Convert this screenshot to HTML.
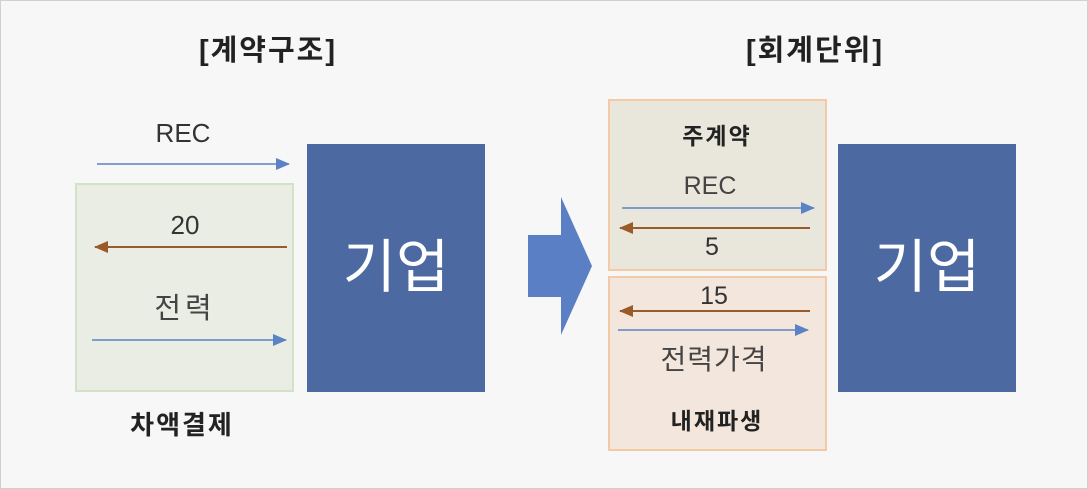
<!DOCTYPE html>
<html><head><meta charset="utf-8"><style>
html,body{margin:0;padding:0;background:#fff}
svg{display:block}
text{font-family:"Liberation Sans","Noto Sans CJK KR",sans-serif}
</style></head><body>
<svg width="1088" height="489" viewBox="0 0 1088 489" xmlns="http://www.w3.org/2000/svg">
<defs>
<marker id="ab" markerWidth="14" markerHeight="12" refX="13" refY="6" orient="auto" markerUnits="userSpaceOnUse"><path d="M0,0 L14,6 L0,12 Z" fill="#5b82c4"/></marker>
<marker id="ar" markerWidth="14" markerHeight="12" refX="13" refY="6" orient="auto" markerUnits="userSpaceOnUse"><path d="M0,0 L14,6 L0,12 Z" fill="#9a5a2a"/></marker>
</defs>
<rect x="0.5" y="0.5" width="1087" height="488" fill="#f7f7f7" stroke="#d0d0d0"/>
<text x="268" y="60" font-size="29" font-weight="bold" text-anchor="middle" letter-spacing="2" fill="#222">[계약구조]</text>
<text x="815" y="60" font-size="29" font-weight="bold" text-anchor="middle" letter-spacing="2" fill="#222">[회계단위]</text>

<text x="183" y="142" font-size="26" text-anchor="middle" fill="#333">REC</text>
<line x1="97" y1="164" x2="289" y2="164" stroke="#5b82c4" stroke-width="1.5" marker-end="url(#ab)"/>
<rect x="76" y="184" width="217" height="207" fill="#e9ede3" stroke="#d3e2c6" stroke-width="2"/>
<text x="185" y="234" font-size="26" text-anchor="middle" fill="#333">20</text>
<line x1="287" y1="247" x2="95" y2="247" stroke="#9a5a2a" stroke-width="2" marker-end="url(#ar)"/>
<text x="185" y="318" font-size="29" text-anchor="middle" letter-spacing="4" fill="#444">전력</text>
<line x1="92" y1="340" x2="286" y2="340" stroke="#5b82c4" stroke-width="1.5" marker-end="url(#ab)"/>
<text x="182" y="434" font-size="26" font-weight="bold" text-anchor="middle" letter-spacing="2" fill="#222">차액결제</text>

<rect x="307" y="144" width="178" height="248" fill="#4c6aa1"/>
<text x="396" y="287" font-size="58" text-anchor="middle" fill="#fff">기업</text>

<path d="M528,235 L561,235 L561,197 L592,266 L561,335 L561,297 L528,297 Z" fill="#5a7fc4"/>

<rect x="609" y="100" width="217" height="170" fill="#e9e6dc" stroke="#f4c9a6" stroke-width="2"/>
<text x="717" y="144" font-size="23" font-weight="bold" text-anchor="middle" letter-spacing="2" fill="#222">주계약</text>
<text x="710" y="194" font-size="25" text-anchor="middle" fill="#444">REC</text>
<line x1="622" y1="208" x2="814" y2="208" stroke="#5b82c4" stroke-width="1.5" marker-end="url(#ab)"/>
<line x1="810" y1="228" x2="620" y2="228" stroke="#9a5a2a" stroke-width="2" marker-end="url(#ar)"/>
<text x="712" y="255" font-size="25" text-anchor="middle" fill="#333">5</text>

<rect x="609" y="277" width="217" height="173" fill="#f3e6dc" stroke="#f4c9a6" stroke-width="2"/>
<text x="714" y="304" font-size="25" text-anchor="middle" fill="#333">15</text>
<line x1="810" y1="311" x2="620" y2="311" stroke="#9a5a2a" stroke-width="2" marker-end="url(#ar)"/>
<line x1="618" y1="330" x2="808" y2="330" stroke="#5b82c4" stroke-width="1.5" marker-end="url(#ab)"/>
<text x="714" y="369" font-size="28" text-anchor="middle" letter-spacing="1" fill="#444">전력가격</text>
<text x="717" y="429" font-size="23" font-weight="bold" text-anchor="middle" letter-spacing="2" fill="#222">내재파생</text>

<rect x="838" y="144" width="178" height="248" fill="#4c6aa1"/>
<text x="927" y="287" font-size="58" text-anchor="middle" fill="#fff">기업</text>
</svg>
</body></html>
